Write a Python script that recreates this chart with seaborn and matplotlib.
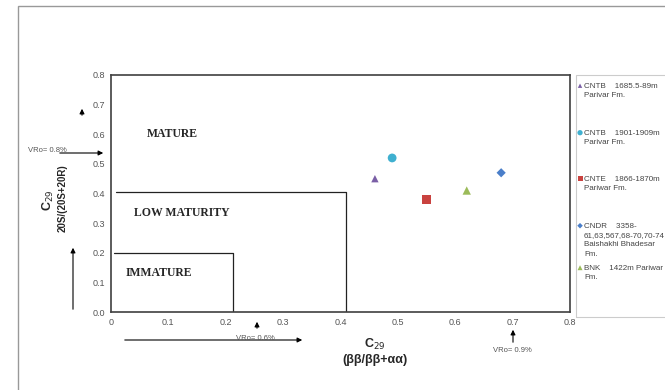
import matplotlib
matplotlib.use("Agg")
import matplotlib.pyplot as plt
import seaborn as sns
import pandas as pd
from matplotlib.patches import Rectangle, FancyArrowPatch

sns.set_style("white")
plt.rcParams['font.family'] = ['Liberation Sans', 'DejaVu Sans']

labels = [
    "CNTB    1685.5-89m\nParivar Fm.",
    "CNTB    1901-1909m\nParivar Fm.",
    "CNTE    1866-1870m\nPariwar Fm.",
    "CNDR    3358-\n61,63,567,68-70,70-74\nBaishakhi Bhadesar\nFm.",
    "BNK    1422m Pariwar\nFm.",
]
x_vals = [0.46, 0.49, 0.55, 0.68, 0.62]
y_vals = [0.45, 0.52, 0.38, 0.47, 0.41]
colors = ["#7a5fa6", "#3fb0d0", "#c9423f", "#4a7ec9", "#9bbb59"]
markers = ["^", "o", "s", "D", "^"]

df = pd.DataFrame({"x": x_vals, "y": y_vals, "sample": labels})

fig = plt.figure(figsize=(6.65, 3.9), dpi=100)
ax = fig.add_axes([111/665, 78/390, 459/665, 237/390])

sizes = [28, 40, 36, 22, 36]
for lab, c, m, s in zip(labels, colors, markers, sizes):
    sub = df[df["sample"] == lab]
    sns.scatterplot(data=sub, x="x", y="y", color=c, marker=m, s=s,
                    edgecolor="none", ax=ax, label=lab, legend=False)

ax.set_xlim(0, 0.8)
ax.set_ylim(0, 0.8)
ax.set_xticks([0, 0.1, 0.2, 0.3, 0.4, 0.5, 0.6, 0.7, 0.8])
ax.set_xticklabels(["0", "0.1", "0.2", "0.3", "0.4", "0.5", "0.6", "0.7", "0.8"])
ax.set_yticks([0, 0.1, 0.2, 0.3, 0.4, 0.5, 0.6, 0.7, 0.8])
ax.set_yticklabels(["0.0", "0.1", "0.2", "0.3", "0.4", "0.5", "0.6", "0.7", "0.8"])
ax.tick_params(axis="both", labelsize=6.5, colors="#555555", length=0, pad=4)
for sp in ax.spines.values():
    sp.set_color("#404040")
    sp.set_linewidth(1.2)
ax.set_xlabel("")
ax.set_ylabel("")

# maturity zone boxes
ax.plot([0.008, 0.41, 0.41], [0.405, 0.405, 0.0], color="#222222", lw=0.9)
ax.plot([0.005, 0.213, 0.213], [0.2, 0.2, 0.0], color="#222222", lw=0.9)
serif = ["Liberation Serif", "DejaVu Serif"]
ax.text(0.107, 0.6, "MATURE", family=serif, fontweight="bold", fontsize=8.5, ha="center", va="center")
ax.text(0.123, 0.335, "LOW MATURITY", family=serif, fontweight="bold", fontsize=8.5, ha="center", va="center")
ax.text(0.083, 0.133, "IMMATURE", family=serif, fontweight="bold", fontsize=8.5, ha="center", va="center")

def fx(px):
    return px/665
def fy(py):
    return 1-py/390

# axis titles
fig.text(fx(375), fy(344), r"C$_{29}$", fontsize=9, fontweight="bold", ha="center", va="center")
fig.text(fx(375), fy(360), "(ββ/ββ+αα)", fontsize=9, fontweight="bold", ha="center", va="center")
fig.text(fx(48), fy(200), r"C$_{29}$", fontsize=9, fontweight="bold", ha="center", va="center", rotation=90)
fig.text(fx(63), fy(198), "20S/(20S+20R)", fontsize=7, fontweight="bold", ha="center", va="center", rotation=90)

# annotation arrows (figure pixel coordinates)
ap = dict(arrowstyle="-|>", color="black", lw=0.8, mutation_scale=7)
def arrow(x0, y0, x1, y1):
    fig.patches.append(FancyArrowPatch((fx(x0), fy(y0)), (fx(x1), fy(y1)),
                       transform=fig.transFigure, **ap))
arrow(57, 153, 106, 153)
arrow(82, 118, 82, 106)
arrow(73, 312, 73, 245)
arrow(122, 340, 305, 340)
arrow(257, 331, 257, 319)
arrow(513, 345, 513, 327)
fig.text(fx(47), fy(150), "VRo= 0.8%", fontsize=5.5, color="#555555", ha="center", va="center")
fig.text(fx(255), fy(338), "VRo= 0.6%", fontsize=5.5, color="#555555", ha="center", va="center")
fig.text(fx(512), fy(351), "VRo= 0.9%", fontsize=5.5, color="#555555", ha="center", va="center")

# outer frame
fig.patches.append(Rectangle((fx(18), -0.05), 1.2, fy(6)+0.05, transform=fig.transFigure,
                             fill=False, edgecolor="#999999", lw=1.0))
# legend box
fig.patches.append(Rectangle((fx(576), fy(317)), 0.2, (317-75)/390, transform=fig.transFigure,
                             fill=False, edgecolor="#cccccc", lw=0.8))

# legend entries: marker aligned with first line of each multi-line label
handles, labs = ax.get_legend_handles_labels()
entry_y = [86, 133, 179, 226, 268]
line_h = 9.5
for h, lab, y0 in zip(handles, labs, entry_y):
    lines = lab.split("\n")
    leg = fig.legend([h], [lines[0]], loc="center left", bbox_to_anchor=(fx(576), fy(y0)),
                     frameon=False, fontsize=5.8, handletextpad=0.0, handlelength=1.0,
                     markerscale=0.6, borderaxespad=0, borderpad=0)
    for t in leg.get_texts():
        t.set_color("#444444")
    for k, ln in enumerate(lines[1:], start=1):
        fig.text(fx(584), fy(y0 + k*line_h), ln, fontsize=5.8, color="#444444",
                 ha="left", va="center")

fig.savefig("out.png", dpi=100)
